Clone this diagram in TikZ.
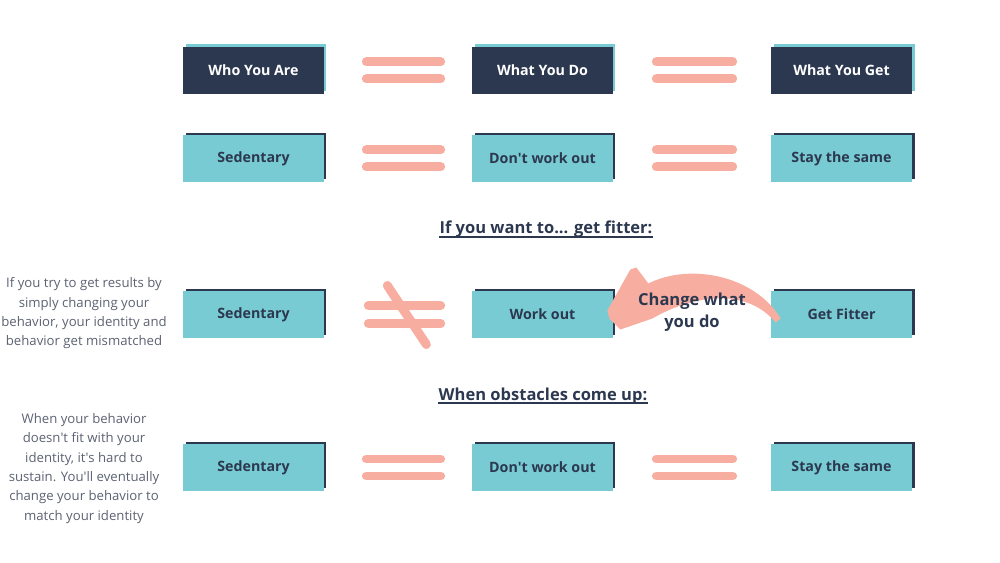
\documentclass[tikz,border=0pt]{standalone}
\usepackage{fontspec}
\setmainfont{Open Sans}
\usepackage{tikz}
\usetikzlibrary{shadows}

\definecolor{navy}{HTML}{2C3850}
\definecolor{boxteal}{HTML}{78CBD2}
\definecolor{brush}{HTML}{F7AD9F}
\definecolor{notegray}{HTML}{5C6272}

\tikzset{
  darkbox/.style={fill=navy, text=white, font=\bfseries\fontsize{8.1}{10}\selectfont,
    minimum width=2.82cm, minimum height=0.94cm, inner sep=0pt,
    general shadow={fill=boxteal, shadow xshift=0.05cm, shadow yshift=0.05cm}},
  lightbox/.style={fill=boxteal, text=navy, font=\bfseries\fontsize{8.1}{10}\selectfont,
    minimum width=2.82cm, minimum height=0.94cm, inner sep=0pt,
    general shadow={fill=navy, shadow xshift=0.05cm, shadow yshift=0.05cm}},
  stroke/.style={draw=brush, line width=0.18cm, line cap=round},
  head/.style={text=navy, font=\bfseries\fontsize{9.4}{11}\selectfont, inner xsep=0pt},
  note/.style={text=notegray, align=center, font=\fontsize{7.5}{11}\selectfont}
}

\begin{document}
\begin{tikzpicture}[x=0.02cm, y=-0.02cm]
        \useasboundingbox (0,0) rectangle (1000,563);
        % header row
        \node (who) [darkbox] at (253.5,70.5) {Who You Are};
        \node (what) [darkbox] at (542.5,70.5) {What You Do};
        \node (get) [darkbox] at (841.5,70.5) {What You Get};
        % current state
        \node (sed1) [lightbox] at (253.5,158.5) {Sedentary};
        \node (out1) [lightbox] at (542.5,158.5) {Don\textquotesingle t work out};
        \node (same1) [lightbox] at (841.5,158.5) {Stay the same};
        % wanting to get fitter
        \node (h1) [head, anchor=base] at (546,234) {If you want to... get fitter:};
        \node (sed2) [lightbox] at (253.5,314.5) {Sedentary};
        \node (work2) [lightbox] at (542.5,314.5) {Work out};
        \node (fit2) [lightbox] at (841.5,314.5) {Get Fitter};
        % obstacles
        \node (h2) [head, anchor=base] at (543,400) {When obstacles come up:};
        \node (sed3) [lightbox] at (253.5,467.5) {Sedentary};
        \node (out3) [lightbox] at (542.5,467.5) {Don\textquotesingle t work out};
        \node (same3) [lightbox] at (841.5,467.5) {Stay the same};
        % side notes
        \node (n1) [note] at (84,313.5) {If you try to get results by\\simply changing your\\behavior, your identity and\\behavior get mismatched};
        \node (n2) [note] at (84,468.5) {When your behavior\\doesn\textquotesingle t fit with your\\identity, it\textquotesingle s hard to\\sustain. You\textquotesingle ll eventually\\change your behavior to\\match your identity};
        % underlines
        \draw [navy, line width=1.1pt] ([yshift=-1.5pt]h1.base west) to ([yshift=-1.5pt]h1.base east);
        \draw [navy, line width=1.1pt] ([yshift=-1.5pt]h2.base west) to ([yshift=-1.5pt]h2.base east);
        % equal signs
        \draw [stroke] ([shift={(42,-8.5)}]who.east) to ([shift={(-31,-8.5)}]what.west);
        \draw [stroke] ([shift={(42,8.5)}]who.east) to ([shift={(-31,8.5)}]what.west);
        \draw [stroke] ([shift={(43,-8.5)}]what.east) to ([shift={(-38,-8.5)}]get.west);
        \draw [stroke] ([shift={(43,8.5)}]what.east) to ([shift={(-38,8.5)}]get.west);
        \draw [stroke] ([shift={(42,-8.5)}]sed1.east) to ([shift={(-31,-8.5)}]out1.west);
        \draw [stroke] ([shift={(42,8.5)}]sed1.east) to ([shift={(-31,8.5)}]out1.west);
        \draw [stroke] ([shift={(43,-8.5)}]out1.east) to ([shift={(-38,-8.5)}]same1.west);
        \draw [stroke] ([shift={(43,8.5)}]out1.east) to ([shift={(-38,8.5)}]same1.west);
        \draw [stroke] ([shift={(44,-9)}]sed2.east) to ([shift={(-31,-9)}]work2.west);
        \draw [stroke] ([shift={(44,9)}]sed2.east) to ([shift={(-31,9)}]work2.west);
        \draw [stroke] ([shift={(63,-29)}]sed2.east) to ([shift={(102,30)}]sed2.east);
        \draw [stroke] ([shift={(42,-8.5)}]sed3.east) to ([shift={(-31,-8.5)}]out3.west);
        \draw [stroke] ([shift={(42,8.5)}]sed3.east) to ([shift={(-31,8.5)}]out3.west);
        \draw [stroke] ([shift={(43,-8.5)}]out3.east) to ([shift={(-38,-8.5)}]same3.west);
        \draw [stroke] ([shift={(43,8.5)}]out3.east) to ([shift={(-38,8.5)}]same3.west);
        % curved arrow from fit2 back to work2
        \fill [brush] ([shift={(10,4)}]fit2.west)
          .. controls ([shift={(-16,-39)}]fit2.west) and ([shift={(77,-52)}]work2.east) .. ([shift={(35,-31)}]work2.east)
          -- ([shift={(23,-47)}]work2.east) -- ([shift={(17,-45)}]work2.east)
          -- ([shift={(-6,-4)}]work2.east) -- ([shift={(-4,4)}]work2.east)
          -- ([shift={(7,15)}]work2.east) -- ([shift={(39,4)}]work2.east)
          .. controls ([shift={(77,-18)}]work2.east) and ([shift={(-26,-29)}]fit2.west) .. ([shift={(5,8)}]fit2.west)
          -- cycle;
        \node (chg) [text=navy, align=center, font=\bfseries\fontsize{9.4}{12.5}\selectfont] at (692,312) {Change what\\you do};
      \end{tikzpicture}
\end{document}
